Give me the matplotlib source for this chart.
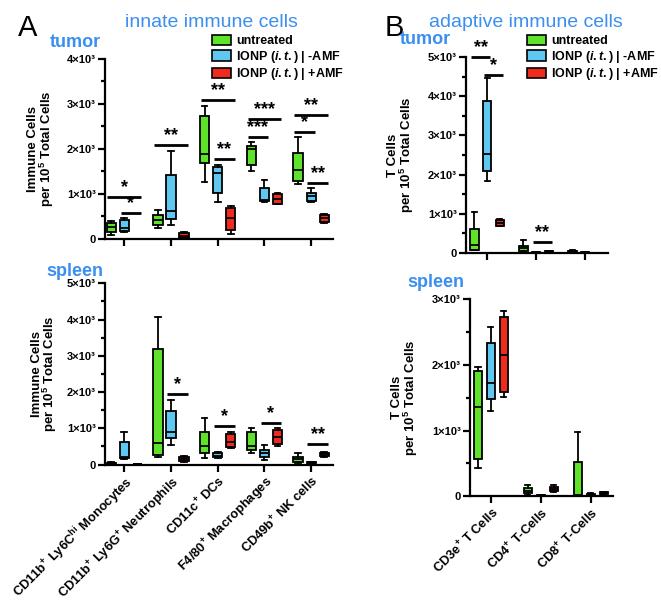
import numpy as np
import matplotlib
matplotlib.use("Agg")
from matplotlib import pyplot as plt
from matplotlib.patches import Patch

plt.rcParams['font.family'] = ['Liberation Sans', 'DejaVu Sans']
plt.rcParams['font.weight'] = 'bold'
plt.rcParams['mathtext.fontset'] = 'custom'
plt.rcParams['mathtext.rm'] = 'Liberation Sans:bold'
plt.rcParams['mathtext.bf'] = 'Liberation Sans:bold'
plt.rcParams['mathtext.it'] = 'Liberation Sans:italic:bold'

GREEN = '#5EE32A'
BLUE = '#5FC8F0'
RED = '#EE2B1C'
TITLE_BLUE = '#3A8FF0'

groups = ['untreated', r'IONP ($\mathit{i.t.}$) | -AMF', r'IONP ($\mathit{i.t.}$) | +AMF']

# innate cells, (min, q1, median, q3, max)
innate_cats = [r'CD11b$^{\mathbf{+}}$ Ly6C$^{\mathbf{hi}}$ Monocytes',
               r'CD11b$^{\mathbf{+}}$ Ly6G$^{\mathbf{+}}$ Neutrophils',
               r'CD11c$^{\mathbf{+}}$ DCs',
               r'F4/80$^{\mathbf{+}}$ Macrophages',
               r'CD49b$^{\mathbf{+}}$ NK cells']

a_tumor_untreated = [(95, 150, 260, 355, 390), (244, 318, 430, 540, 650),
                     (1267, 1689, 1889, 2733, 2955), (1500, 1649, 2004, 2055, 2144),
                     (1227, 1279, 1538, 1907, 2262)]
a_tumor_minus = [(155, 170, 245, 430, 465), (318, 450, 614, 1427, 1945),
                 (820, 1020, 1464, 1590, 1650), (820, 835, 872, 1131, 1316),
                 (820, 850, 946, 1020, 1131)]
a_tumor_plus = [(0, 0, 0, 0, 0), (7, 22, 74, 133, 155),
                (111, 207, 466, 688, 740), (769, 784, 895, 1005, 1020),
                (355, 370, 466, 540, 555)]

a_spleen_untreated = [(10, 20, 35, 50, 60), (212, 258, 580, 3177, 4060),
                      (166, 322, 516, 902, 1271), (304, 396, 516, 902, 994),
                      (28, 74, 147, 212, 322)]
a_spleen_minus = [(147, 166, 212, 626, 902), (552, 718, 902, 1483, 1777),
                  (193, 200, 239, 331, 340), (120, 212, 322, 414, 552),
                  (15, 30, 50, 70, 80)]
a_spleen_plus = [(5, 8, 10, 12, 15), (64, 92, 147, 212, 230),
                 (442, 470, 626, 829, 902), (516, 562, 764, 948, 994),
                 (220, 230, 285, 331, 340)]

# adaptive cells
adaptive_cats = [r'CD3e$^{\mathbf{+}}$ T Cells', r'CD4$^{\mathbf{+}}$ T-Cells',
                 r'CD8$^{\mathbf{+}}$ T-Cells']

b_tumor_untreated = [(68, 85, 196, 612, 1046), (25, 43, 128, 187, 323), (10, 20, 40, 60, 70)]
b_tumor_minus = [(1828, 2083, 2525, 3869, 4464), (5, 10, 15, 25, 30), (5, 8, 10, 12, 15)]
b_tumor_plus = [(680, 690, 765, 850, 860), (20, 30, 40, 50, 55), (2, 3, 5, 6, 8)]

b_spleen_untreated = [(422, 559, 1362, 1906, 1972), (20, 41, 81, 117, 163), (0, 0, 15, 513, 971)]
b_spleen_minus = [(1296, 1474, 1728, 2339, 2583), (5, 8, 12, 18, 22), (5, 10, 20, 30, 41)]
b_spleen_plus = [(1515, 1591, 2150, 2735, 2827), (60, 76, 112, 142, 163), (20, 25, 45, 66, 70)]

# significance bars: (category, from group, to group, y, label)
a_tumor_sig = [(0, 0, 2, 924, '*'), (0, 1, 2, 577, '*'), (1, 0, 2, 2090, '**'),
               (2, 0, 2, 3090, '**'), (2, 1, 2, 1775, '**'),
               (3, 0, 2, 2662, '***'), (3, 0, 1, 2262, '***'),
               (4, 0, 2, 2758, '**'), (4, 0, 1, 2366, '*'), (4, 1, 2, 1242, '**')]
a_spleen_sig = [(1, 1, 2, 1934, '*'), (2, 1, 2, 1068, '*'), (3, 1, 2, 1151, '*'),
                (4, 1, 2, 562, '**')]
b_tumor_sig = [(0, 0, 1, 5000, '**'), (0, 1, 2, 4549, '*'), (1, 1, 2, 272, '**')]


def draw_panel(ax, data, sig, ymax, ylabel, offset, width, xlim, labelx):
    colors = [GREEN, BLUE, RED]
    for g, series in enumerate(data):
        stats = [dict(whislo=s[0], q1=s[1], med=s[2], q3=s[3], whishi=s[4], fliers=[])
                 for s in series]
        pos = np.arange(len(series)) + (g - 1) * offset
        ax.bxp(stats, positions=pos, widths=width, patch_artist=True, manage_ticks=False,
               boxprops=dict(facecolor=colors[g], edgecolor='black', linewidth=1.3),
               medianprops=dict(color='black', linewidth=1.3),
               whiskerprops=dict(color='black', linewidth=1.3),
               capprops=dict(color='black', linewidth=1.3), capwidths=width * 0.6)
    for c, g0, g1, y, lab in sig:
        x0 = c + (g0 - 1) * offset
        x1 = c + (g1 - 1) * offset
        ax.plot([x0 - width * 0.4, x1 + width * 0.4], [y, y], color='black', lw=2,
                solid_capstyle='butt', clip_on=False)
        ax.text((x0 + x1) / 2, y + ymax * 0.005, lab, ha='center', va='bottom',
                fontsize=13, fontweight='bold', clip_on=False)
    ax.set_ylim(0, ymax)
    ax.set_xlim(*xlim)
    ticks = np.arange(0, ymax + 1, 1000)
    ax.set_yticks(ticks)
    ax.set_yticklabels(['0'] + ['%d×10³' % (t // 1000) for t in ticks[1:]], fontsize=8)
    ax.set_yticks(np.arange(500, ymax, 1000), minor=True)
    ax.set_xticks(np.arange(len(data[0])))
    for s in ['top', 'right']:
        ax.spines[s].set_visible(False)
    for s in ['left', 'bottom']:
        ax.spines[s].set_linewidth(1.6)
    ax.tick_params(axis='both', which='major', width=1.6, length=5, pad=1.5)
    ax.tick_params(axis='y', which='minor', width=1.6, length=3)
    ax.set_ylabel(ylabel, fontsize=9.5, fontweight='bold', linespacing=0.9)
    ax.yaxis.set_label_coords(labelx, 0.5)


fig = plt.figure(figsize=(6.61, 6.08), dpi=100)

ax1 = fig.add_axes([0.159, 0.607, 0.345, 0.296])
ax2 = fig.add_axes([0.159, 0.236, 0.345, 0.298])
ax3 = fig.add_axes([0.705, 0.584, 0.215, 0.322])
ax4 = fig.add_axes([0.711, 0.184, 0.216, 0.3235])

ylab_a = 'Immune Cells\nper 10$^{5}$ Total Cells'
ylab_b = 'T Cells\nper 10$^{5}$ Total Cells'

draw_panel(ax1, [a_tumor_untreated, a_tumor_minus, a_tumor_plus], a_tumor_sig, 4000,
           ylab_a, 0.28, 0.2, (-0.41, 4.47), -0.215)
draw_panel(ax2, [a_spleen_untreated, a_spleen_minus, a_spleen_plus], a_spleen_sig, 5000,
           ylab_a, 0.28, 0.2, (-0.41, 4.47), -0.2)
draw_panel(ax3, [b_tumor_untreated, b_tumor_minus, b_tumor_plus], b_tumor_sig, 5000,
           ylab_b, 0.26, 0.17, (-0.43, 2.47), -0.35)
draw_panel(ax4, [b_spleen_untreated, b_spleen_minus, b_spleen_plus], [], 3000,
           ylab_b, 0.26, 0.17, (-0.42, 2.44), -0.35)

ax1.set_xticklabels([])
ax3.set_xticklabels([])
ax2.set_xticklabels(innate_cats, rotation=45, ha='right', rotation_mode='anchor',
                    fontsize=9.3)
ax4.set_xticklabels(adaptive_cats, rotation=45, ha='right', rotation_mode='anchor',
                    fontsize=9.3)

handles = [Patch(facecolor=c, edgecolor='black', linewidth=1.2) for c in [GREEN, BLUE, RED]]
for ax, anchor in [(ax1, (0.47, 1.135)), (ax3, (0.43, 1.115))]:
    ax.legend(handles, groups, loc='upper left', bbox_to_anchor=anchor, frameon=False,
              fontsize=9, handlelength=1.5, handleheight=0.9, handletextpad=0.4,
              labelspacing=0.12, borderpad=0, borderaxespad=0)

fig.text(0.027, 0.977, 'A', fontsize=21, fontweight='normal', va='top')
fig.text(0.582, 0.977, 'B', fontsize=21, fontweight='normal', va='top')
fig.text(0.32, 0.977, 'innate immune cells', fontsize=14, fontweight='normal',
         color=TITLE_BLUE, ha='center', va='top')
fig.text(0.796, 0.977, 'adaptive immune cells', fontsize=14, fontweight='normal',
         color=TITLE_BLUE, ha='center', va='top')
fig.text(0.075, 0.93, 'tumor', fontsize=13, color=TITLE_BLUE, va='center')
fig.text(0.07, 0.553, 'spleen', fontsize=13, color=TITLE_BLUE, va='center')
fig.text(0.605, 0.935, 'tumor', fontsize=13, color=TITLE_BLUE, va='center')
fig.text(0.617, 0.535, 'spleen', fontsize=13, color=TITLE_BLUE, va='center')

fig.savefig('out.png', dpi=100)
